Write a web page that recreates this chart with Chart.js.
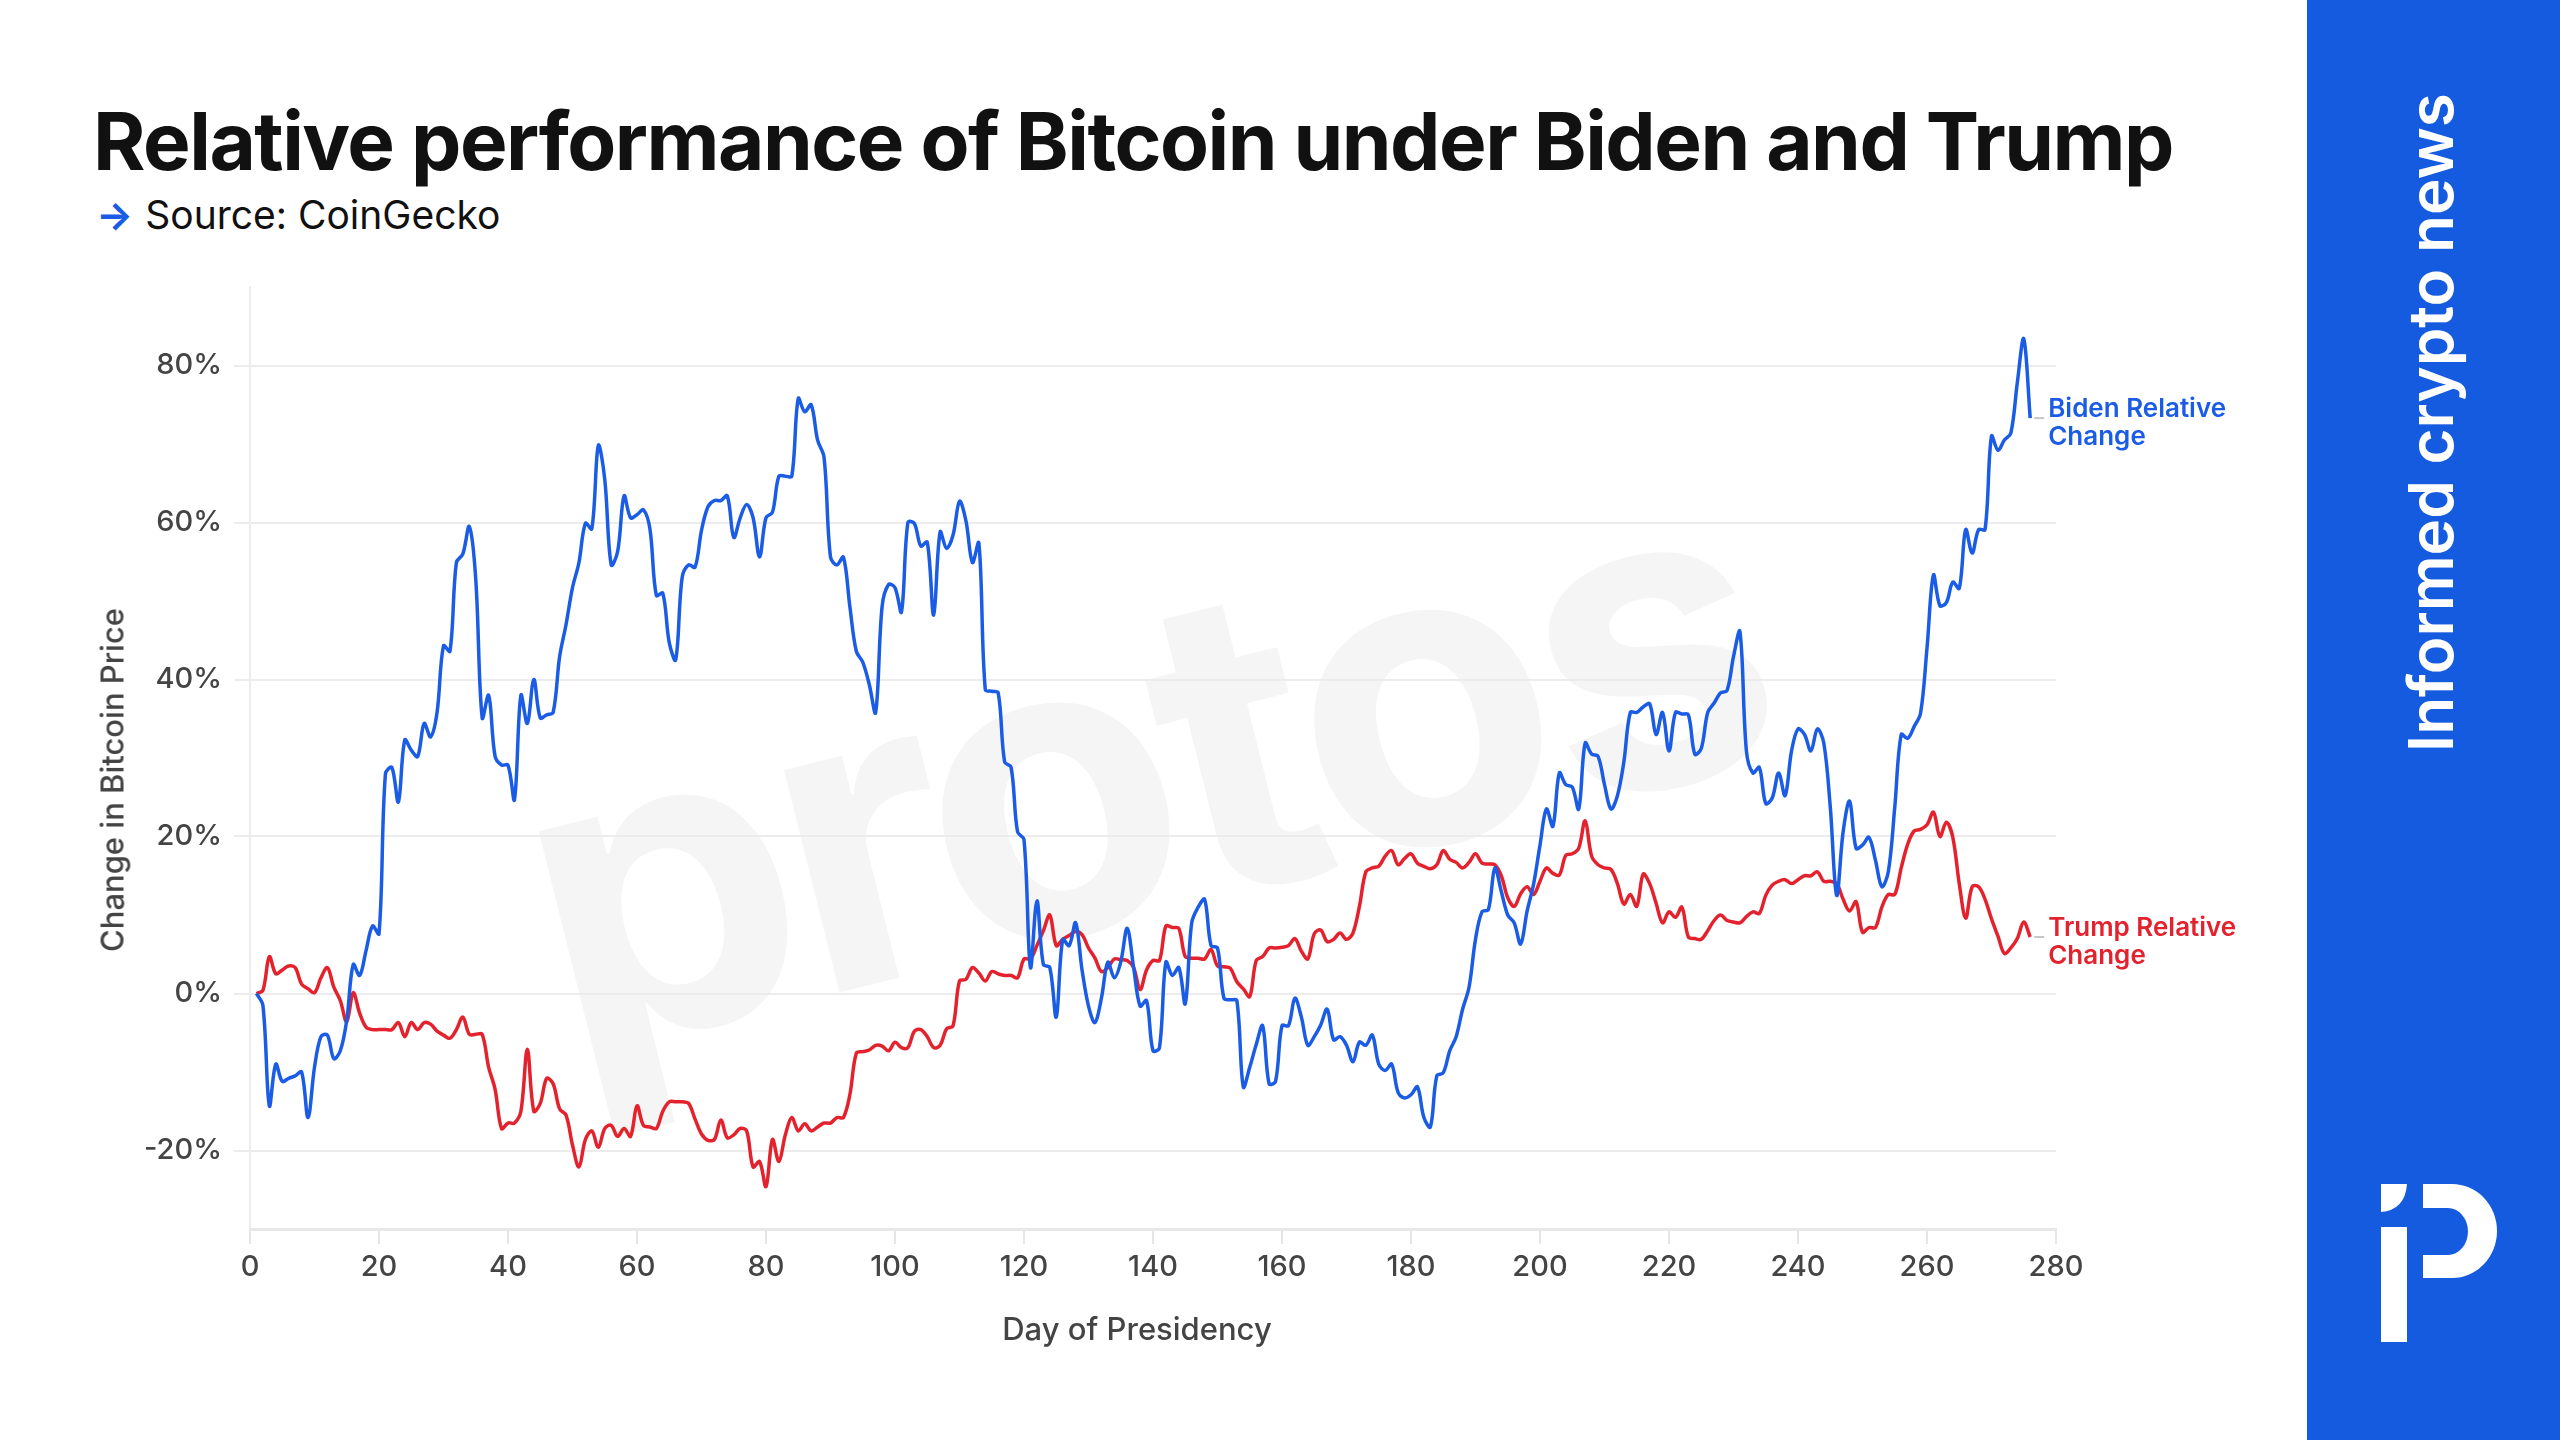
<!DOCTYPE html>
<html>
<head>
<meta charset="utf-8">
<script src="https://cdn.jsdelivr.net/npm/chart.js@4.4.1/dist/chart.umd.min.js"></script>
<style>
    body { margin: 0; width: 2560px; height: 1440px; overflow: hidden; background: #fff; position: relative; font-family: Inter, sans-serif; }
    .title { position: absolute; left: 93px; top: 101px; font-size: 80px; line-height: 1; font-weight: 700; color: #111; letter-spacing: -1.5px; white-space: nowrap; }
    .source { position: absolute; left: 96px; top: 195px; font-size: 39px; line-height: 1; color: #111; white-space: nowrap; }
    .source span { color: #1a5ce5; font-weight: 700; margin-right: 12px; }
    .watermark { position: absolute; left: 1140px; top: 760px; transform: translate(-50%, -50%) rotate(-14deg); font-size: 420px; font-weight: 700; color: #f5f5f5; letter-spacing: -12px; line-height: 1; white-space: nowrap; }
    .chartbox { position: absolute; left: 0; top: 0; width: 2307px; height: 1440px; }
    .axis-title { position: absolute; font-size: 31px; line-height: 1; font-weight: 500; color: #444; white-space: nowrap; }
    .ytitle { left: 112px; top: 780px; transform: translate(-50%, -50%) rotate(-90deg); }
    .xtitle { left: 1137px; top: 1328px; transform: translate(-50%, -50%); }
    .sidebar { position: absolute; left: 2307px; top: 0; width: 253px; height: 1440px; background: #155be0; }
    .tagline { position: absolute; left: 2400px; top: 752px; transform-origin: 0 0; transform: rotate(-90deg); font-size: 62px; line-height: 1; font-weight: 600; color: #fff; white-space: nowrap; }
    .logo { position: absolute; left: 2360px; top: 1160px; }
</style>
</head>
<body>
<div class="watermark">protos</div>
<div class="title">Relative performance of Bitcoin under Biden and Trump</div>
<div class="source"><span>→</span>Source: CoinGecko</div>
<div class="chartbox"><canvas id="chart"></canvas></div>
<div class="axis-title ytitle">Change in Bitcoin Price</div>
<div class="axis-title xtitle">Day of Presidency</div>
<div class="sidebar"></div>
<div class="tagline">Informed crypto news</div>
<svg class="logo" width="160" height="200" viewBox="0 0 160 200">
    <path d="M21 24 H47 Q45 50 21 52 Z" fill="#fff"/>
    <rect x="21" y="67" width="26" height="115" fill="#fff"/>
    <path d="M63 24 H92 A45 47 0 0 1 92 118 H63 V95 H88 A20 23.5 0 0 0 88 48 H63 Z" fill="#fff"/>
</svg>
<script>
// day of presidency (1..276)
const days = Array.from({length: 276}, (_, i) => i + 1)

// % change in bitcoin price
const biden = [
    0, -1.5, -14.3, -9, -11.2, -10.8, -10.5, -10, -15.8, -9.4,
    -5.5, -5.3, -8.3, -7.3, -3.4, 3.7, 2.3, 5.5, 8.6, 7.6,
    28, 28.8, 24.4, 32.3, 31, 30.2, 34.4, 32.7, 35.8, 44.3,
    43.6, 54.9, 56, 59.5, 52.8, 35.1, 38, 30.2, 29.1, 29.1,
    24.7, 38, 34.4, 40, 35.1, 35.5, 35.8, 42.9, 47, 51.7,
    54.9, 59.9, 59.2, 69.8, 65.5, 54.6, 56.3, 63.4, 60.6, 61,
    61.6, 59.2, 50.7, 51, 44.7, 42.5, 53, 54.6, 54.3, 59,
    62, 62.8, 62.8, 63.4, 58.1, 60.6, 62.3, 60.6, 55.6, 60.6,
    61.3, 65.9, 65.9, 65.9, 75.8, 74.1, 75, 70.5, 68.3, 55.6,
    54.6, 55.6, 49.3, 43.6, 42.2, 39.4, 35.8, 49.3, 52.1, 51.7,
    48.6, 60, 59.9, 57, 57.5, 48.2, 58.8, 56.7, 58.4, 62.7,
    60.2, 54.9, 57.4, 38.7, 38.5, 38.3, 29.5, 28.8, 20.6, 19.6,
    3.3, 11.8, 3.7, 3.3, -3, 6.9, 6.1, 9, 3, -1.6,
    -3.7, -0.6, 4, 2, 4, 8.3, 3.3, -1.6, -0.9, -7.3,
    -6.9, 4, 2.3, 3.3, -1.3, 9, 11, 12, 6.1, 5.8,
    -0.6, -0.8, -0.9, -11.9, -9.4, -6.5, -4.1, -11.5, -11.2, -4.1,
    -4.1, -0.6, -3, -6.6, -5.5, -4, -2, -5.9, -5.5, -6.6,
    -8.7, -6.2, -6.6, -5.3, -9, -9.8, -9, -12.6, -13.3, -12.9,
    -11.9, -15.8, -17, -10.5, -10.1, -7.3, -5.5, -2, 0.8, 6.9,
    10.4, 10.7, 16, 13, 10, 9, 6.3, 10.5, 13.9, 18.9,
    23.5, 21.3, 28.1, 26.6, 26.3, 23.5, 31.9, 30.5, 30.2, 26.6,
    23.5, 25.2, 29.5, 35.8, 35.8, 36.5, 36.9, 33, 35.8, 30.9,
    35.8, 35.6, 35.5, 30.5, 31.2, 35.8, 37, 38.3, 38.6, 42.9,
    46.1, 30.9, 28.1, 28.8, 24.2, 24.9, 28.1, 25.2, 30.9, 33.7,
    33, 30.9, 33.7, 31.9, 23.8, 12.5, 20.6, 24.5, 18.5, 18.9,
    19.9, 17, 13.6, 15.5, 23.7, 33, 32.5, 34, 35.7, 44,
    53.3, 49.4, 49.8, 52.4, 51.6, 59.1, 56.1, 59.1, 59.1, 71,
    69.2, 70.5, 71.4, 77.8, 83.4, 73.3
]

const trump = [
    0, 0.4, 4.7, 2.5, 3, 3.5, 3.3, 1.2, 0.6, 0.1,
    2, 3.3, 0.8, -0.9, -3.6, 0.1, -2.5, -4.3, -4.6, -4.6,
    -4.6, -4.6, -3.7, -5.5, -3.7, -4.6, -3.7, -3.9, -4.8, -5.3,
    -5.7, -4.6, -3, -5.2, -5.2, -5.2, -9.4, -12.2, -17.2, -16.5,
    -16.5, -15, -7.1, -15, -14, -10.8, -11.5, -14.7, -15.5, -19.3,
    -22.1, -18.6, -17.5, -19.6, -17.2, -16.8, -18.2, -17.2, -18.2, -14.3,
    -16.8, -17, -17.2, -15, -13.8, -13.8, -13.8, -14, -16, -17.9,
    -18.7, -18.6, -16.1, -18.4, -18, -17.2, -17.5, -22.1, -21.4, -24.6,
    -18.6, -21.4, -18, -15.8, -17.5, -16.6, -17.5, -17, -16.5, -16.5,
    -15.8, -15.8, -12.9, -7.6, -7.4, -7.2, -6.6, -6.7, -7.3, -6.2,
    -6.9, -6.9, -4.8, -4.6, -5.5, -6.9, -6.6, -4.5, -4.1, 1.6,
    1.8, 3.3, 2.6, 1.6, 2.8, 2.5, 2.3, 2.3, 2, 4.4,
    4.4, 6.1, 8, 10, 6.1, 6.9, 7.4, 7.9, 7.5, 5.8,
    4.5, 2.8, 3.3, 4.4, 4.3, 4.2, 3.3, 0.5, 3, 4.2,
    4.2, 8.6, 8.4, 8.3, 4.7, 4.5, 4.5, 4.4, 5.6, 3.5,
    3.4, 3.2, 1.5, 0.6, -0.4, 4.2, 4.7, 5.8, 5.8, 5.9,
    6.1, 7, 5.4, 4.4, 7.6, 8.1, 6.6, 6.9, 7.7, 6.9,
    7.7, 11.1, 15.5, 16, 16.2, 17.5, 18.2, 16.4, 17.2, 17.8,
    16.6, 16.2, 15.9, 16.4, 18.2, 17.1, 16.7, 16, 16.7, 17.8,
    16.6, 16.5, 16.4, 15, 12.2, 11.1, 12.7, 13.6, 12.6, 14.3,
    16, 15.3, 15.1, 17.6, 17.8, 18.5, 22, 17.5, 16.4, 16,
    15.8, 14, 11.4, 12.6, 11.1, 15.2, 14, 11.5, 9, 10.4,
    9.7, 11, 7.2, 7, 6.9, 8, 9.3, 10, 9.3, 9.1,
    9, 9.8, 10.4, 10.2, 12.5, 13.8, 14.3, 14.5, 14, 14.5,
    15, 15, 15.5, 14.3, 14.3, 14, 12, 10.5, 11.7, 7.8,
    8.4, 8.4, 11, 12.6, 12.6, 16, 19, 20.7, 20.9, 21.5,
    23.1, 20, 21.8, 19.9, 14, 9.6, 13.6, 13.6, 12, 9.5,
    7.3, 5.1, 5.8, 7, 9.1, 7.2
]

const bidenLabel = ['Biden Relative', 'Change']
const trumpLabel = ['Trump Relative', 'Change']

// names next to the last point of each line
const endLabels = {
    id: 'endLabels',
    afterDatasetsDraw(chart) {
        const ctx = chart.ctx
        chart.data.datasets.forEach((ds, i) => {
            const meta = chart.getDatasetMeta(i)
            const pt = meta.data[meta.data.length - 1]
            ctx.save()
            ctx.strokeStyle = '#c8c8c8'
            ctx.lineWidth = 2
            ctx.beginPath()
            ctx.moveTo(pt.x + 4, pt.y)
            ctx.lineTo(pt.x + 14, pt.y)
            ctx.stroke()
            ctx.fillStyle = ds.borderColor
            ctx.font = '600 26px Inter'
            ctx.textBaseline = 'middle'
            ds.endLabel.forEach((line, j) => ctx.fillText(line, pt.x + 18, pt.y - 9 + j * 28))
            ctx.restore()
        })
    }
}

Chart.defaults.font.family = 'Inter'
Chart.defaults.color = '#444'

const ctx = document.getElementById('chart').getContext('2d')
new Chart(ctx, {
    type: 'line',
    data: {
        labels: days,
        datasets: [
            {
                label: 'Biden Relative Change',
                data: biden,
                endLabel: bidenLabel,
                borderColor: '#1a5ce5',
                borderWidth: 3.5,
                pointRadius: 0,
                tension: 0.35
            },
            {
                label: 'Trump Relative Change',
                data: trump,
                endLabel: trumpLabel,
                borderColor: '#e3222d',
                borderWidth: 3.5,
                pointRadius: 0,
                tension: 0.35
            }
        ]
    },
    options: {
        responsive: true,
        maintainAspectRatio: false,
        animation: false,
        layout: {
            padding: { top: 287, right: 251, bottom: 0, left: 0 }
        },
        scales: {
            x: {
                type: 'linear',
                min: 0,
                max: 280,
                afterFit: (s) => { s.height = 211 },
                ticks: {
                    stepSize: 20,
                    padding: 6,
                    font: { size: 29, weight: 500 },
                    color: '#444'
                },
                grid: {
                    drawOnChartArea: false,
                    drawTicks: true,
                    tickLength: 15,
                    color: '#e6e6e6',
                    lineWidth: 2
                },
                border: { color: '#e8e8e8', width: 3 }
            },
            y: {
                min: -30,
                max: 90,
                afterFit: (s) => { s.width = 250 },
                afterBuildTicks: (s) => { s.ticks = s.ticks.filter(t => t.value % 20 === 0) },
                ticks: {
                    stepSize: 10,
                    padding: 12,
                    font: { size: 29, weight: 500 },
                    color: '#444',
                    callback: (v) => v + '%'
                },
                grid: {
                    color: '#ececec',
                    lineWidth: 2,
                    tickLength: 16
                },
                border: { color: '#ececec', width: 2 }
            }
        },
        plugins: {
            legend: { display: false },
            tooltip: { enabled: false }
        }
    },
    plugins: [endLabels]
})
</script>
</body>
</html>
